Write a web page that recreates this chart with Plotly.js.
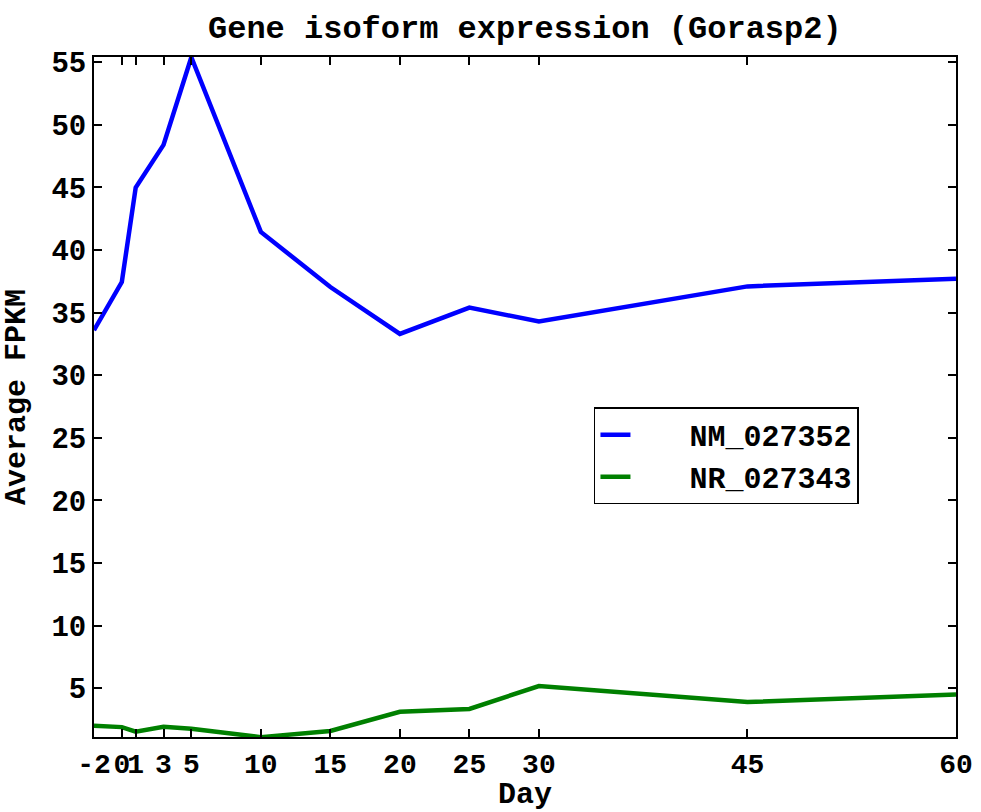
<!DOCTYPE html>
<html>
<head>
<meta charset="utf-8">
<script src="https://cdn.plot.ly/plotly-3.0.1.min.js"></script>
<style>html,body{margin:0;padding:0;background:#fff;}#chart{width:981px;height:812px;}</style>
</head>
<body>
<div id="chart"></div>
<script>
const days = [-2, 0, 1, 3, 5, 10, 15, 20, 25, 30, 45, 60];
const tickLabels = ["-2", "0", "1", "3", "5", "10", "15", "20", "25", "30", "45", "60"];
const nm027352 = [33.6, 37.45, 45.0, 48.4, 55.4, 41.45, 37.05, 33.3, 35.4, 34.3, 37.1, 37.7];
const nr027343 = [2.0, 1.9, 1.53, 1.93, 1.77, 1.1, 1.59, 3.13, 3.35, 5.18, 3.9, 4.5];
const yTicks = [5, 10, 15, 20, 25, 30, 35, 40, 45, 50, 55];
const seriesNames = ["NM_027352", "NR_027343"];

const font = "'Liberation Mono', 'Courier New', monospace";
const fs = 30;
const pad = "\u00a0\u00a0\u00a0";

const traces = [
  {x: days, y: nm027352, name: pad + seriesNames[0], mode: "lines", line: {color: "#0000FF", width: 4.5}},
  {x: days, y: nr027343, name: pad + seriesNames[1], mode: "lines", line: {color: "#008000", width: 4.5}}
];

const axisCommon = {
  showline: true, linecolor: "#000", linewidth: 2, mirror: "ticks",
  ticks: "inside", ticklen: 8, tickwidth: 1.5, tickcolor: "#000",
  showgrid: false, zeroline: false, tickangle: 0
};

const layout = {
  width: 981, height: 812,
  margin: {l: 94, r: 25, t: 57, b: 75},
  paper_bgcolor: "#fff", plot_bgcolor: "#fff",
  title: {text: "<b>Gene isoform expression (Gorasp2)</b>", font: {family: font, size: 32, color: "#000"}, x: 0.535, xanchor: "center", y: 0.967, yanchor: "middle"},
  xaxis: Object.assign({}, axisCommon, {
    range: [-2, 60], tickmode: "array", tickvals: days, ticktext: tickLabels,
    ticklabeloverflow: "allow",
    tickfont: {family: font, size: 28, color: "#000", weight: "bold"},
    title: {text: "<b>Day</b>", font: {family: font, size: fs, color: "#000"}}
  }),
  yaxis: Object.assign({}, axisCommon, {
    range: [1.11, 55.42], tickmode: "array", tickvals: yTicks,
    tickfont: {family: font, size: 29, color: "#000", weight: "bold"},
    title: {text: "<b>Average FPKM</b>", font: {family: font, size: fs, color: "#000"}}
  }),
  showlegend: true,
  legend: {
    x: 0.58, y: 0.485, xanchor: "left", yanchor: "top",
    bordercolor: "#000", borderwidth: 1.5, bgcolor: "#fff",
    font: {family: font, size: fs, color: "#000", weight: "bold"},
    tracegroupgap: 0
  }
};

Plotly.newPlot("chart", traces, layout, {displayModeBar: false});
</script>
</body>
</html>
